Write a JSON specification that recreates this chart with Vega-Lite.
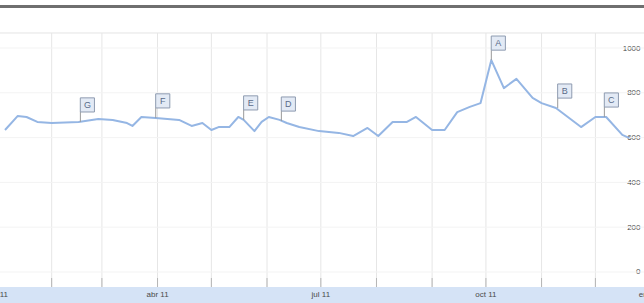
{
  "$schema": "https://vega.github.io/schema/vega-lite/v6.json",
  "width": 644,
  "height": 303,
  "padding": 0,
  "autosize": {"type": "none"},
  "background": "white",
  "config": {
    "view": {"stroke": null},
    "font": "Liberation Sans",
    "axisY": {"orient": "right", "format": "d", "domain": false, "ticks": false, "tickSize": 0, "grid": false, "labelAlign": "right", "labelPadding": -4, "labelFontSize": 8, "labelColor": "#4a4a4a", "labelFont": "Liberation Sans", "labelBaseline": "middle"}
  },
  "datasets": {
    "trend": [
      {"date": "2011/01/06", "value": 634},
      {"date": "2011/01/13", "value": 696},
      {"date": "2011/01/18", "value": 692},
      {"date": "2011/01/24", "value": 670},
      {"date": "2011/02/01", "value": 665},
      {"date": "2011/02/16", "value": 670},
      {"date": "2011/02/27", "value": 683},
      {"date": "2011/03/07", "value": 679},
      {"date": "2011/03/15", "value": 665},
      {"date": "2011/03/18", "value": 652},
      {"date": "2011/03/23", "value": 692},
      {"date": "2011/03/31", "value": 688},
      {"date": "2011/04/13", "value": 679},
      {"date": "2011/04/20", "value": 652},
      {"date": "2011/04/26", "value": 665},
      {"date": "2011/05/01", "value": 634},
      {"date": "2011/05/05", "value": 647},
      {"date": "2011/05/11", "value": 647},
      {"date": "2011/05/16", "value": 692},
      {"date": "2011/05/19", "value": 679},
      {"date": "2011/05/25", "value": 629},
      {"date": "2011/05/29", "value": 670},
      {"date": "2011/06/02", "value": 692},
      {"date": "2011/06/08", "value": 679},
      {"date": "2011/06/12", "value": 665},
      {"date": "2011/06/19", "value": 647},
      {"date": "2011/06/30", "value": 629},
      {"date": "2011/07/11", "value": 621},
      {"date": "2011/07/19", "value": 607},
      {"date": "2011/07/27", "value": 643},
      {"date": "2011/08/02", "value": 607},
      {"date": "2011/08/10", "value": 670},
      {"date": "2011/08/18", "value": 670},
      {"date": "2011/08/23", "value": 692},
      {"date": "2011/09/01", "value": 634},
      {"date": "2011/09/08", "value": 634},
      {"date": "2011/09/15", "value": 714},
      {"date": "2011/09/22", "value": 737},
      {"date": "2011/09/28", "value": 754},
      {"date": "2011/10/04", "value": 946},
      {"date": "2011/10/11", "value": 821},
      {"date": "2011/10/18", "value": 862},
      {"date": "2011/10/27", "value": 777},
      {"date": "2011/11/01", "value": 754},
      {"date": "2011/11/09", "value": 732},
      {"date": "2011/11/23", "value": 647},
      {"date": "2011/12/01", "value": 692},
      {"date": "2011/12/07", "value": 692},
      {"date": "2011/12/16", "value": 612},
      {"date": "2011/12/20", "value": 598}
    ],
    "months": [
      {"date": "2011/01/01"}, {"date": "2011/02/01"}, {"date": "2011/03/01"},
      {"date": "2011/04/01"}, {"date": "2011/05/01"}, {"date": "2011/06/01"},
      {"date": "2011/07/01"}, {"date": "2011/08/01"}, {"date": "2011/09/01"},
      {"date": "2011/10/01"}, {"date": "2011/11/01"}, {"date": "2011/12/01"},
      {"date": "2012/01/01"}
    ],
    "quarters": [
      {"date": "2011/01/01", "label": "ene 11"},
      {"date": "2011/04/01", "label": "abr 11"},
      {"date": "2011/07/01", "label": "jul 11"},
      {"date": "2011/10/01", "label": "oct 11"},
      {"date": "2012/01/01", "label": "ene 12"}
    ],
    "events": [
      {"date": "2011/02/17", "value": 670, "letter": "G"},
      {"date": "2011/03/31", "value": 688, "letter": "F"},
      {"date": "2011/05/19", "value": 679, "letter": "E"},
      {"date": "2011/06/09", "value": 674, "letter": "D"},
      {"date": "2011/10/04", "value": 946, "letter": "A"},
      {"date": "2011/11/10", "value": 732, "letter": "B"},
      {"date": "2011/12/06", "value": 692, "letter": "C"}
    ],
    "levels": [
      {"v": 0}, {"v": 200}, {"v": 400}, {"v": 600}, {"v": 800}, {"v": 1000}
    ]
  },
  "layer": [
    {
      "data": {"values": [{}]},
      "mark": {"type": "rect", "color": "#d5e3f6"},
      "encoding": {
        "y": {"datum": -67, "type": "quantitative", "scale": {"domain": [-138.4, 1214.3], "nice": false, "zero": false}, "axis": {"values": [0, 200, 400, 600, 800, 1000], "title": null}},
        "y2": {"datum": -140}
      }
    },
    {
      "data": {"values": [{}]},
      "mark": {"type": "rule", "color": "#6f6f6f", "strokeWidth": 3},
      "encoding": {
        "y": {"datum": 1185, "type": "quantitative", "scale": {"domain": [-138.4, 1214.3], "nice": false, "zero": false}, "axis": {"values": [0, 200, 400, 600, 800, 1000], "title": null}}
      }
    },
    {
      "data": {"values": [{}]},
      "mark": {"type": "rule", "color": "#e4e4e4", "strokeWidth": 1},
      "encoding": {
        "y": {"datum": 1067, "type": "quantitative", "scale": {"domain": [-138.4, 1214.3], "nice": false, "zero": false}, "axis": {"values": [0, 200, 400, 600, 800, 1000], "title": null}}
      }
    },
    {
      "data": {"name": "months"},
      "mark": {"type": "rule", "color": "#e6e6e6", "strokeWidth": 1},
      "encoding": {
        "x": {"field": "date", "type": "temporal", "scale": {"domain": [{"year": 2011, "month": 1, "date": 3, "hours": 5}, {"year": 2011, "month": 12, "date": 28, "hours": 2}]}, "axis": null},
        "y": {"datum": 1067, "type": "quantitative", "scale": {"domain": [-138.4, 1214.3], "nice": false, "zero": false}, "axis": {"values": [0, 200, 400, 600, 800, 1000], "title": null}},
        "y2": {"datum": -67}
      }
    },
    {
      "data": {"name": "months"},
      "mark": {"type": "rule", "color": "#b5b5b5", "strokeWidth": 1},
      "encoding": {
        "x": {"field": "date", "type": "temporal", "scale": {"domain": [{"year": 2011, "month": 1, "date": 3, "hours": 5}, {"year": 2011, "month": 12, "date": 28, "hours": 2}]}, "axis": null},
        "y": {"datum": -27, "type": "quantitative", "scale": {"domain": [-138.4, 1214.3], "nice": false, "zero": false}, "axis": {"values": [0, 200, 400, 600, 800, 1000], "title": null}},
        "y2": {"datum": -67}
      }
    },
    {
      "data": {"name": "levels"},
      "mark": {"type": "rule", "color": "#f3f3f3", "strokeWidth": 1},
      "encoding": {
        "y": {"field": "v", "type": "quantitative", "scale": {"domain": [-138.4, 1214.3], "nice": false, "zero": false}, "axis": {"values": [0, 200, 400, 600, 800, 1000], "title": null}}
      }
    },
    {
      "data": {"name": "trend"},
      "mark": {"type": "line", "color": "#95b6e4", "strokeWidth": 2, "strokeJoin": "round"},
      "encoding": {
        "x": {"field": "date", "type": "temporal", "scale": {"domain": [{"year": 2011, "month": 1, "date": 3, "hours": 5}, {"year": 2011, "month": 12, "date": 28, "hours": 2}]}, "axis": null},
        "y": {"field": "value", "type": "quantitative", "scale": {"domain": [-138.4, 1214.3], "nice": false, "zero": false}, "axis": {"values": [0, 200, 400, 600, 800, 1000], "title": null}}
      }
    },
    {
      "data": {"name": "events"},
      "mark": {"type": "rule", "color": "#9a9a9a", "strokeWidth": 1, "y2Offset": -10},
      "encoding": {
        "x": {"field": "date", "type": "temporal", "scale": {"domain": [{"year": 2011, "month": 1, "date": 3, "hours": 5}, {"year": 2011, "month": 12, "date": 28, "hours": 2}]}, "axis": null},
        "y": {"field": "value", "type": "quantitative", "scale": {"domain": [-138.4, 1214.3], "nice": false, "zero": false}, "axis": {"values": [0, 200, 400, 600, 800, 1000], "title": null}},
        "y2": {"field": "value"}
      }
    },
    {
      "data": {"name": "events"},
      "mark": {"type": "point", "shape": "square", "size": 200, "filled": true, "fill": "#e3eaf5", "stroke": "#8e9bb0", "strokeWidth": 1, "opacity": 1, "xOffset": 7, "yOffset": -17},
      "encoding": {
        "x": {"field": "date", "type": "temporal", "scale": {"domain": [{"year": 2011, "month": 1, "date": 3, "hours": 5}, {"year": 2011, "month": 12, "date": 28, "hours": 2}]}, "axis": null},
        "y": {"field": "value", "type": "quantitative", "scale": {"domain": [-138.4, 1214.3], "nice": false, "zero": false}, "axis": {"values": [0, 200, 400, 600, 800, 1000], "title": null}}
      }
    },
    {
      "data": {"name": "events"},
      "mark": {"type": "text", "fontSize": 9, "color": "#5a6a88", "xOffset": 7, "yOffset": -17, "align": "center", "baseline": "middle", "font": "Liberation Sans"},
      "encoding": {
        "x": {"field": "date", "type": "temporal", "scale": {"domain": [{"year": 2011, "month": 1, "date": 3, "hours": 5}, {"year": 2011, "month": 12, "date": 28, "hours": 2}]}, "axis": null},
        "y": {"field": "value", "type": "quantitative", "scale": {"domain": [-138.4, 1214.3], "nice": false, "zero": false}, "axis": {"values": [0, 200, 400, 600, 800, 1000], "title": null}},
        "text": {"field": "letter"}
      }
    },
    {
      "data": {"name": "quarters"},
      "mark": {"type": "text", "fontSize": 8, "color": "#4a4a4a", "align": "center", "baseline": "middle", "font": "Liberation Sans"},
      "encoding": {
        "x": {"field": "date", "type": "temporal", "scale": {"domain": [{"year": 2011, "month": 1, "date": 3, "hours": 5}, {"year": 2011, "month": 12, "date": 28, "hours": 2}]}, "axis": null},
        "y": {"datum": -103, "type": "quantitative", "scale": {"domain": [-138.4, 1214.3], "nice": false, "zero": false}, "axis": {"values": [0, 200, 400, 600, 800, 1000], "title": null}},
        "text": {"field": "label"}
      }
    }
  ]
}
